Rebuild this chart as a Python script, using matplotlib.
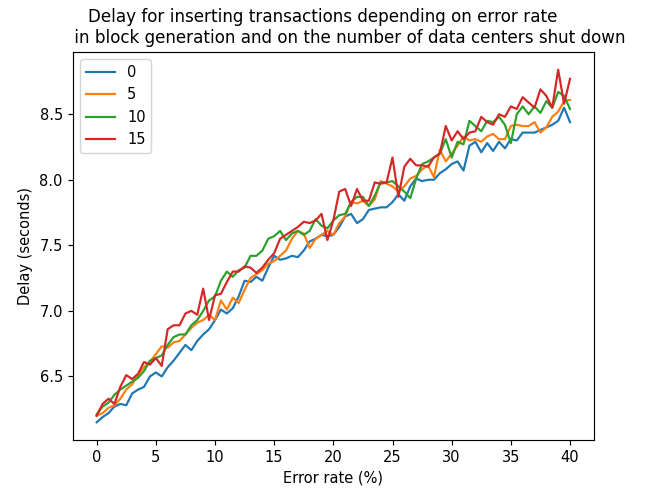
import numpy as np
import matplotlib
matplotlib.use("Agg")
import matplotlib.pyplot as plt

error_rate = [i * 0.5 for i in range(81)]

delay_0 = [6.15, 6.19, 6.22, 6.27, 6.29, 6.28, 6.37, 6.40, 6.42, 6.50,
           6.53, 6.50, 6.57, 6.62, 6.68, 6.74, 6.70, 6.77, 6.82, 6.86,
           6.93, 7.01, 6.98, 7.02, 7.11, 7.23, 7.22, 7.26, 7.23, 7.33,
           7.42, 7.39, 7.40, 7.42, 7.41, 7.46, 7.53, 7.55, 7.58, 7.57,
           7.58, 7.64, 7.72, 7.74, 7.67, 7.70, 7.77, 7.78, 7.79, 7.79,
           7.83, 7.89, 7.84, 7.95, 8.01, 7.99, 8.00, 8.00, 8.05, 8.08,
           8.12, 8.14, 8.07, 8.26, 8.29, 8.21, 8.28, 8.22, 8.29, 8.24,
           8.31, 8.30, 8.36, 8.36, 8.36, 8.38, 8.40, 8.42, 8.45, 8.55,
           8.44]

delay_5 = [6.20, 6.22, 6.26, 6.28, 6.33, 6.40, 6.44, 6.51, 6.57, 6.61,
           6.67, 6.73, 6.72, 6.76, 6.77, 6.82, 6.87, 6.91, 6.93, 6.97,
           6.93, 7.08, 7.01, 7.10, 7.06, 7.16, 7.25, 7.28, 7.31, 7.36,
           7.38, 7.42, 7.46, 7.55, 7.61, 7.59, 7.48, 7.55, 7.58, 7.61,
           7.58, 7.67, 7.72, 7.83, 7.82, 7.84, 7.80, 7.85, 7.99, 7.97,
           7.95, 7.91, 7.95, 8.01, 8.03, 8.08, 8.11, 8.02, 8.23, 8.14,
           8.20, 8.26, 8.33, 8.30, 8.31, 8.29, 8.33, 8.35, 8.31, 8.31,
           8.41, 8.42, 8.41, 8.41, 8.44, 8.36, 8.40, 8.48, 8.52, 8.60,
           8.61]

delay_10 = [6.21, 6.27, 6.30, 6.36, 6.40, 6.43, 6.46, 6.49, 6.54, 6.62,
            6.64, 6.66, 6.74, 6.80, 6.82, 6.82, 6.89, 6.93, 7.00, 7.08,
            7.11, 7.23, 7.30, 7.26, 7.31, 7.33, 7.42, 7.42, 7.46, 7.55,
            7.57, 7.61, 7.54, 7.59, 7.61, 7.58, 7.61, 7.70, 7.65, 7.63,
            7.69, 7.73, 7.74, 7.83, 7.87, 7.87, 7.80, 7.88, 7.98, 7.98,
            7.99, 7.95, 7.91, 7.86, 8.01, 8.12, 8.14, 8.17, 8.20, 8.31,
            8.17, 8.29, 8.27, 8.45, 8.41, 8.37, 8.45, 8.44, 8.48, 8.42,
            8.28, 8.50, 8.56, 8.50, 8.56, 8.51, 8.60, 8.55, 8.67, 8.64,
            8.54]

delay_15 = [6.20, 6.29, 6.33, 6.29, 6.42, 6.51, 6.48, 6.52, 6.61, 6.59,
            6.64, 6.58, 6.86, 6.89, 6.89, 6.98, 7.00, 6.97, 7.17, 6.93,
            7.12, 7.13, 7.22, 7.30, 7.30, 7.34, 7.33, 7.29, 7.33, 7.39,
            7.44, 7.55, 7.58, 7.61, 7.64, 7.68, 7.67, 7.69, 7.74, 7.54,
            7.69, 7.91, 7.93, 7.80, 7.93, 7.84, 7.84, 7.98, 7.97, 7.98,
            8.17, 7.87, 8.10, 8.16, 8.11, 8.11, 8.10, 8.17, 8.20, 8.41,
            8.30, 8.37, 8.31, 8.36, 8.37, 8.48, 8.44, 8.42, 8.50, 8.48,
            8.56, 8.54, 8.63, 8.59, 8.55, 8.69, 8.64, 8.55, 8.84, 8.58,
            8.77]

series_labels = ["0", "5", "10", "15"]
series = [delay_0, delay_5, delay_10, delay_15]

DPI = 105
fig = plt.figure(figsize=(646 / DPI, 491 / DPI), dpi=DPI)
ax = fig.add_axes([0.113, 0.104, 0.806, 0.79])
for lab, vals in zip(series_labels, series):
    ax.plot(error_rate, vals, label=lab)

ax.set_xlabel("Error rate (%)")
ax.set_ylabel("Delay (seconds)")
ax.set_title("Delay for inserting transactions depending on error rate    \n"
             "      in block generation and on the number of data centers shut down",
             fontsize=11.5)
ax.legend(loc="upper left")
fig.savefig("out.png", dpi=DPI)
